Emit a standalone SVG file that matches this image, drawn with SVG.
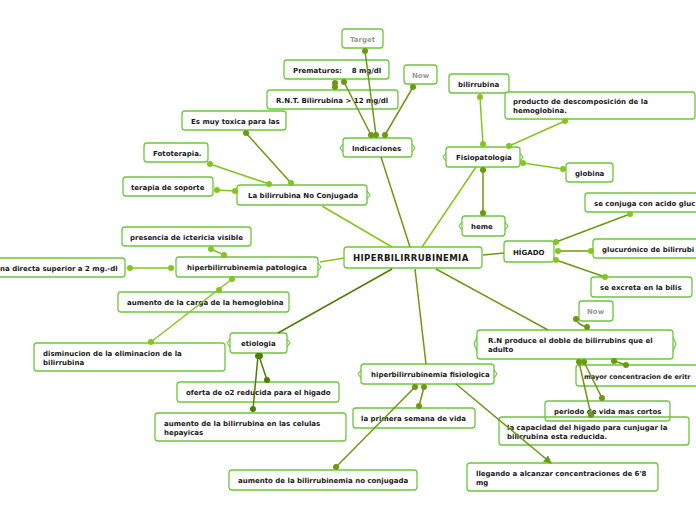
<svg xmlns="http://www.w3.org/2000/svg" width="696" height="520" viewBox="0 0 696 520">
<style>
.n rect{fill:#fff;stroke:#6cc83c;stroke-width:1.3}
.n path{fill:none;stroke:#6cc83c;stroke-width:1.1}
.t{font-family:"DejaVu Sans",Verdana,sans-serif;font-weight:bold;font-size:7px;fill:#1a1a1a}
.gr{fill:#9a9a9a}
.big{font-size:8.6px;letter-spacing:0.35px}
.lo{stroke:#6b9a12;stroke-width:1.5;fill:none}
.ll{stroke:#84c51f;stroke-width:1.5;fill:none}
.ld{stroke:#4f7d05;stroke-width:1.5;fill:none}
.do{fill:#6b9a12}.dl{fill:#84c51f}.dd{fill:#4f7d05}
</style>
<defs>
<marker id="ar" markerWidth="8" markerHeight="8" refX="7" refY="4" orient="auto" markerUnits="userSpaceOnUse"><path d="M0,0 L8,4 L0,8 Z" fill="#6b9a12"/></marker>
</defs>
<rect width="696" height="520" fill="#fff"/>

<g id="n-hiper" class="n"><rect x="344" y="247" width="138" height="21" rx="3" stroke-width="1.6"/><text class="t big" x="353" y="261">HIPERBILIRRUBINEMIA</text></g>
<g id="n-indic" class="n"><rect x="343" y="138" width="69" height="19" rx="3"/><path d="M343,144 q-3,4 -3,4 q0,0 3,4 M412,144 q3,4 3,4 q0,0 -3,4"/><text class="t" x="352" y="150.5">Indicaciones</text></g>
<g id="n-target" class="n"><rect x="342" y="29" width="41" height="19" rx="3"/><text class="t gr" x="350" y="41.5">Target</text></g>
<g id="n-prem" class="n"><rect x="284" y="60" width="105" height="19" rx="3"/><text class="t" x="293" y="72.5" xml:space="preserve">Prematuros:    8 mg/dl</text></g>
<g id="n-rnt" class="n"><rect x="267" y="90" width="131" height="19" rx="3"/><text class="t" x="276" y="102.5">R.N.T. Bilirrubina &gt; 12 mg/dl</text></g>
<g id="n-now1" class="n"><rect x="404" y="65" width="33" height="19" rx="3"/><text class="t gr" x="412" y="77.5">Now</text></g>
<g id="n-toxica" class="n"><rect x="182" y="111" width="104" height="19" rx="3"/><text class="t" x="191" y="123.5">Es muy toxica para las</text></g>
<g id="n-foto" class="n"><rect x="144" y="143" width="64" height="19" rx="3"/><text class="t" x="153" y="155.5">Fototerapia.</text></g>
<g id="n-soporte" class="n"><rect x="123" y="177" width="90" height="19" rx="3"/><text class="t" x="131" y="189.5">terapia de soporte</text></g>
<g id="n-noconj" class="n"><rect x="237" y="185" width="130" height="20" rx="3"/><path d="M367,191 q3,4 3,4 q0,0 -3,4"/><text class="t" x="248" y="198">La bilirrubina No Conjugada</text></g>
<g id="n-ictericia" class="n"><rect x="122" y="227" width="129" height="19" rx="3"/><text class="t" x="130" y="239.5">presencia de ictericia visible</text></g>
<g id="n-patol" class="n"><rect x="176" y="257" width="142" height="20" rx="3"/><path d="M318,263 q3,4 3,4 q0,0 -3,4"/><text class="t" x="187" y="270">hiperbilirrubinemia patologica</text></g>
<g id="n-directa" class="n"><rect x="-10" y="258" width="135" height="19" rx="3"/><text class="t" x="0" y="270.5">na directa superior a 2 mg.-dl</text></g>
<g id="n-carga" class="n"><rect x="118" y="292" width="171" height="20" rx="3"/><text class="t" x="127" y="305">aumento de la carga de la hemoglobina</text></g>
<g id="n-dismin" class="n"><rect x="34" y="343" width="191" height="28" rx="3"/><text class="t" x="43" y="356">disminucion de la eliminacion de la</text><text class="t" x="43" y="365">bilirrubina</text></g>
<g id="n-etiol" class="n"><rect x="230" y="333" width="57" height="20" rx="3"/><path d="M230,339 q-3,4 -3,4 q0,0 3,4 M287,339 q3,4 3,4 q0,0 -3,4"/><text class="t" x="241" y="346">etiologia</text></g>
<g id="n-oferta" class="n"><rect x="177" y="382" width="162" height="20" rx="3"/><text class="t" x="186" y="395">oferta de o2 reducida para el higado</text></g>
<g id="n-celulas" class="n"><rect x="155" y="413" width="191" height="28" rx="3"/><text class="t" x="164" y="426">aumento de la bilirrubina en las celulas</text><text class="t" x="164" y="434.5">hepayicas</text></g>
<g id="n-fisiol" class="n"><rect x="361" y="364" width="133" height="20" rx="3"/><path d="M361,370 q-3,4 -3,4 q0,0 3,4 M494,370 q3,4 3,4 q0,0 -3,4"/><text class="t" x="371" y="377">hiperbilirrubinemia fisiologica</text></g>
<g id="n-semana" class="n"><rect x="353" y="408" width="122" height="20" rx="3"/><text class="t" x="361" y="421">la primera semana de vida</text></g>
<g id="n-noconj2" class="n"><rect x="229" y="470" width="188" height="20" rx="3"/><text class="t" x="238" y="483">aumento de la bilirrubinemia no conjugada</text></g>
<g id="n-llegando" class="n"><rect x="467" y="463" width="191" height="28" rx="3"/><text class="t" x="476" y="476">llegando a alcanzar concentraciones de 6'8</text><text class="t" x="476" y="485">mg</text></g>
<g id="n-fisiopat" class="n"><rect x="446" y="147" width="74" height="20" rx="3"/><path d="M446,153 q-3,4 -3,4 q0,0 3,4 M520,153 q3,4 3,4 q0,0 -3,4"/><text class="t" x="456" y="160">Fisiopatología</text></g>
<g id="n-bili" class="n"><rect x="449" y="74" width="60" height="19" rx="3"/><text class="t" x="458" y="86.5">bilirrubina</text></g>
<g id="n-producto" class="n"><rect x="505" y="92" width="190" height="27" rx="3"/><text class="t" x="513" y="104">producto de descomposición de la</text><text class="t" x="513" y="113">hemoglobina.</text></g>
<g id="n-globina" class="n"><rect x="566" y="163" width="47" height="19" rx="3"/><text class="t" x="575" y="175.5">globina</text></g>
<g id="n-heme" class="n"><rect x="462" y="216" width="43" height="20" rx="3"/><path d="M462,222 q-3,4 -3,4 q0,0 3,4 M505,222 q3,4 3,4 q0,0 -3,4"/><text class="t" x="471" y="229">heme</text></g>
<g id="n-higado" class="n"><rect x="504" y="241" width="50" height="21" rx="3"/><text class="t" x="513" y="254.5">HÍGADO</text></g>
<g id="n-conjuga" class="n"><rect x="585" y="193" width="125" height="19" rx="3"/><text class="t" x="594" y="205.5">se conjuga con acido gluc</text></g>
<g id="n-glucur" class="n"><rect x="593" y="239" width="115" height="19" rx="3"/><text class="t" x="602" y="251.5">glucurónico de bilirrubi</text></g>
<g id="n-bilis" class="n"><rect x="591" y="277" width="101" height="20" rx="3"/><text class="t" x="600" y="290">se excreta en la bilis</text></g>
<g id="n-now2" class="n"><rect x="579" y="301" width="34" height="20" rx="3"/><text class="t gr" x="587" y="314">Now</text></g>
<g id="n-rn" class="n"><rect x="477" y="330" width="196" height="29" rx="3"/><path d="M477,337 q-3,7 -3,7 q0,0 3,7 M673,337 q3,7 3,7 q0,0 -3,7"/><text class="t" x="488" y="343">R.N produce el doble de bilirrubins que el</text><text class="t" x="488" y="352">adulto</text></g>
<g id="n-eritro" class="n"><rect x="576" y="365" width="135" height="21" rx="3"/><text class="t" x="584" y="378.5" style="font-size:6.5px">mayor concentracion de eritr</text></g>
<g id="n-capac" class="n"><rect x="499" y="417" width="190" height="28" rx="3"/><text class="t" x="507" y="430">la capacidad del higado para cunjugar la</text><text class="t" x="507" y="439">bilirrubina esta reducida.</text></g>
<g id="n-periodo" class="n"><rect x="545" y="401" width="125" height="20" rx="3" fill-opacity="0"/><text class="t" x="554" y="414">periodo de vida mas cortos</text></g>

<g id="connectors">
<line class="lo" x1="410" y1="247" x2="381" y2="157"/>
<line class="lo" x1="376" y1="135" x2="365" y2="51"/>
<line class="lo" x1="371" y1="135" x2="344" y2="82"/>
<line class="lo" x1="385" y1="135" x2="413" y2="87"/>
<line class="lo" x1="335" y1="83" x2="335" y2="87"/>
<circle class="do" cx="365" cy="51" r="3"/><circle class="do" cx="344" cy="82" r="3"/><circle class="do" cx="413" cy="87" r="3"/>
<circle class="do" cx="371" cy="135" r="3"/><circle class="do" cx="376" cy="135" r="3"/><circle class="do" cx="385" cy="135" r="3"/>
<circle class="do" cx="335" cy="83" r="3"/><circle class="do" cx="335" cy="87" r="3"/>

<line class="ll" x1="392" y1="247" x2="322" y2="206"/>
<line class="lo" x1="291" y1="183" x2="246" y2="133"/>
<line class="ll" x1="269" y1="184" x2="210" y2="164"/>
<line class="ll" x1="235" y1="191" x2="217" y2="190"/>
<circle class="do" cx="246" cy="133" r="3"/><circle class="dl" cx="291" cy="183" r="3"/>
<circle class="dl" cx="269" cy="184" r="3"/><circle class="dl" cx="210" cy="164" r="3"/>
<circle class="dl" cx="235" cy="191" r="3"/><circle class="dl" cx="217" cy="190" r="3"/>

<line class="ll" x1="344" y1="258" x2="320" y2="262"/>
<line class="ll" x1="224" y1="255" x2="211" y2="249"/>
<line class="ll" x1="171" y1="268" x2="130" y2="268"/>
<line class="ll" x1="232" y1="279" x2="151" y2="342"/>
<circle class="dl" cx="224" cy="255" r="3"/><circle class="dl" cx="211" cy="249" r="3"/>
<circle class="dl" cx="171" cy="268" r="3"/><circle class="dl" cx="130" cy="268" r="3"/>
<circle class="dl" cx="232" cy="279" r="3"/><circle class="dl" cx="219" cy="290" r="3"/><circle class="dl" cx="151" cy="342" r="3"/>

<line class="ld" x1="392" y1="269" x2="278" y2="333"/>
<line class="ld" x1="259" y1="356" x2="267" y2="380"/>
<line class="ld" x1="258" y1="356" x2="253" y2="409"/>
<circle class="dd" cx="258" cy="356" r="3"/><circle class="dd" cx="260" cy="356" r="3"/>
<circle class="dd" cx="267" cy="380" r="3"/><circle class="dd" cx="253" cy="409" r="3"/>

<line class="lo" x1="415" y1="269" x2="426" y2="364"/>
<line class="lo" x1="424" y1="387" x2="419" y2="406"/>
<line class="lo" x1="415" y1="387" x2="336" y2="467"/>
<line class="lo" x1="456" y1="384" x2="551" y2="463" marker-end="url(#ar)"/>
<circle class="do" cx="415" cy="387" r="3"/><circle class="do" cx="424" cy="387" r="3"/>
<circle class="do" cx="419" cy="406" r="3"/><circle class="do" cx="336" cy="467" r="3"/>

<line class="ll" x1="422" y1="247" x2="476" y2="167"/>
<line class="ll" x1="480" y1="97" x2="483" y2="144"/>
<line class="ll" x1="565" y1="121" x2="509" y2="146"/>
<line class="ll" x1="523" y1="163" x2="563" y2="169"/>
<line class="lo" x1="483" y1="170" x2="483" y2="213"/>
<circle class="dl" cx="480" cy="97" r="3"/><circle class="dl" cx="483" cy="144" r="3"/>
<circle class="dl" cx="565" cy="121" r="3"/><circle class="dl" cx="509" cy="146" r="3"/>
<circle class="dl" cx="523" cy="163" r="3"/><circle class="dl" cx="563" cy="169" r="3"/>
<circle class="do" cx="483" cy="170" r="3"/><circle class="do" cx="483" cy="213" r="3"/>

<line class="lo" x1="483" y1="255" x2="504" y2="253"/>
<line class="lo" x1="556" y1="242" x2="630" y2="214"/>
<line class="lo" x1="558" y1="251" x2="591" y2="251"/>
<line class="lo" x1="556" y1="260" x2="605" y2="277"/>
<circle class="dl" cx="556" cy="242" r="3"/><circle class="dl" cx="558" cy="251" r="3"/><circle class="dl" cx="556" cy="260" r="3"/>
<circle class="dl" cx="630" cy="214" r="3"/><circle class="dl" cx="591" cy="251" r="3"/><circle class="dl" cx="605" cy="277" r="3"/>

<line class="lo" x1="436" y1="269" x2="548" y2="330"/>
<path class="lo" d="M587,327 q-9,-2 -11,-8"/>
<line class="lo" x1="614" y1="361" x2="626" y2="365"/>
<line class="lo" x1="584" y1="362" x2="602" y2="398"/>
<line class="lo" x1="579" y1="362" x2="591" y2="415"/>
<circle class="do" cx="576" cy="319" r="3"/><circle class="do" cx="587" cy="327" r="3"/>
<circle class="do" cx="614" cy="361" r="3"/><circle class="do" cx="626" cy="365" r="3"/>
<circle class="do" cx="579" cy="362" r="3"/><circle class="do" cx="584" cy="362" r="3"/>
<circle class="do" cx="602" cy="398" r="3"/><circle class="do" cx="591" cy="415" r="3"/>
</g>
</svg>
